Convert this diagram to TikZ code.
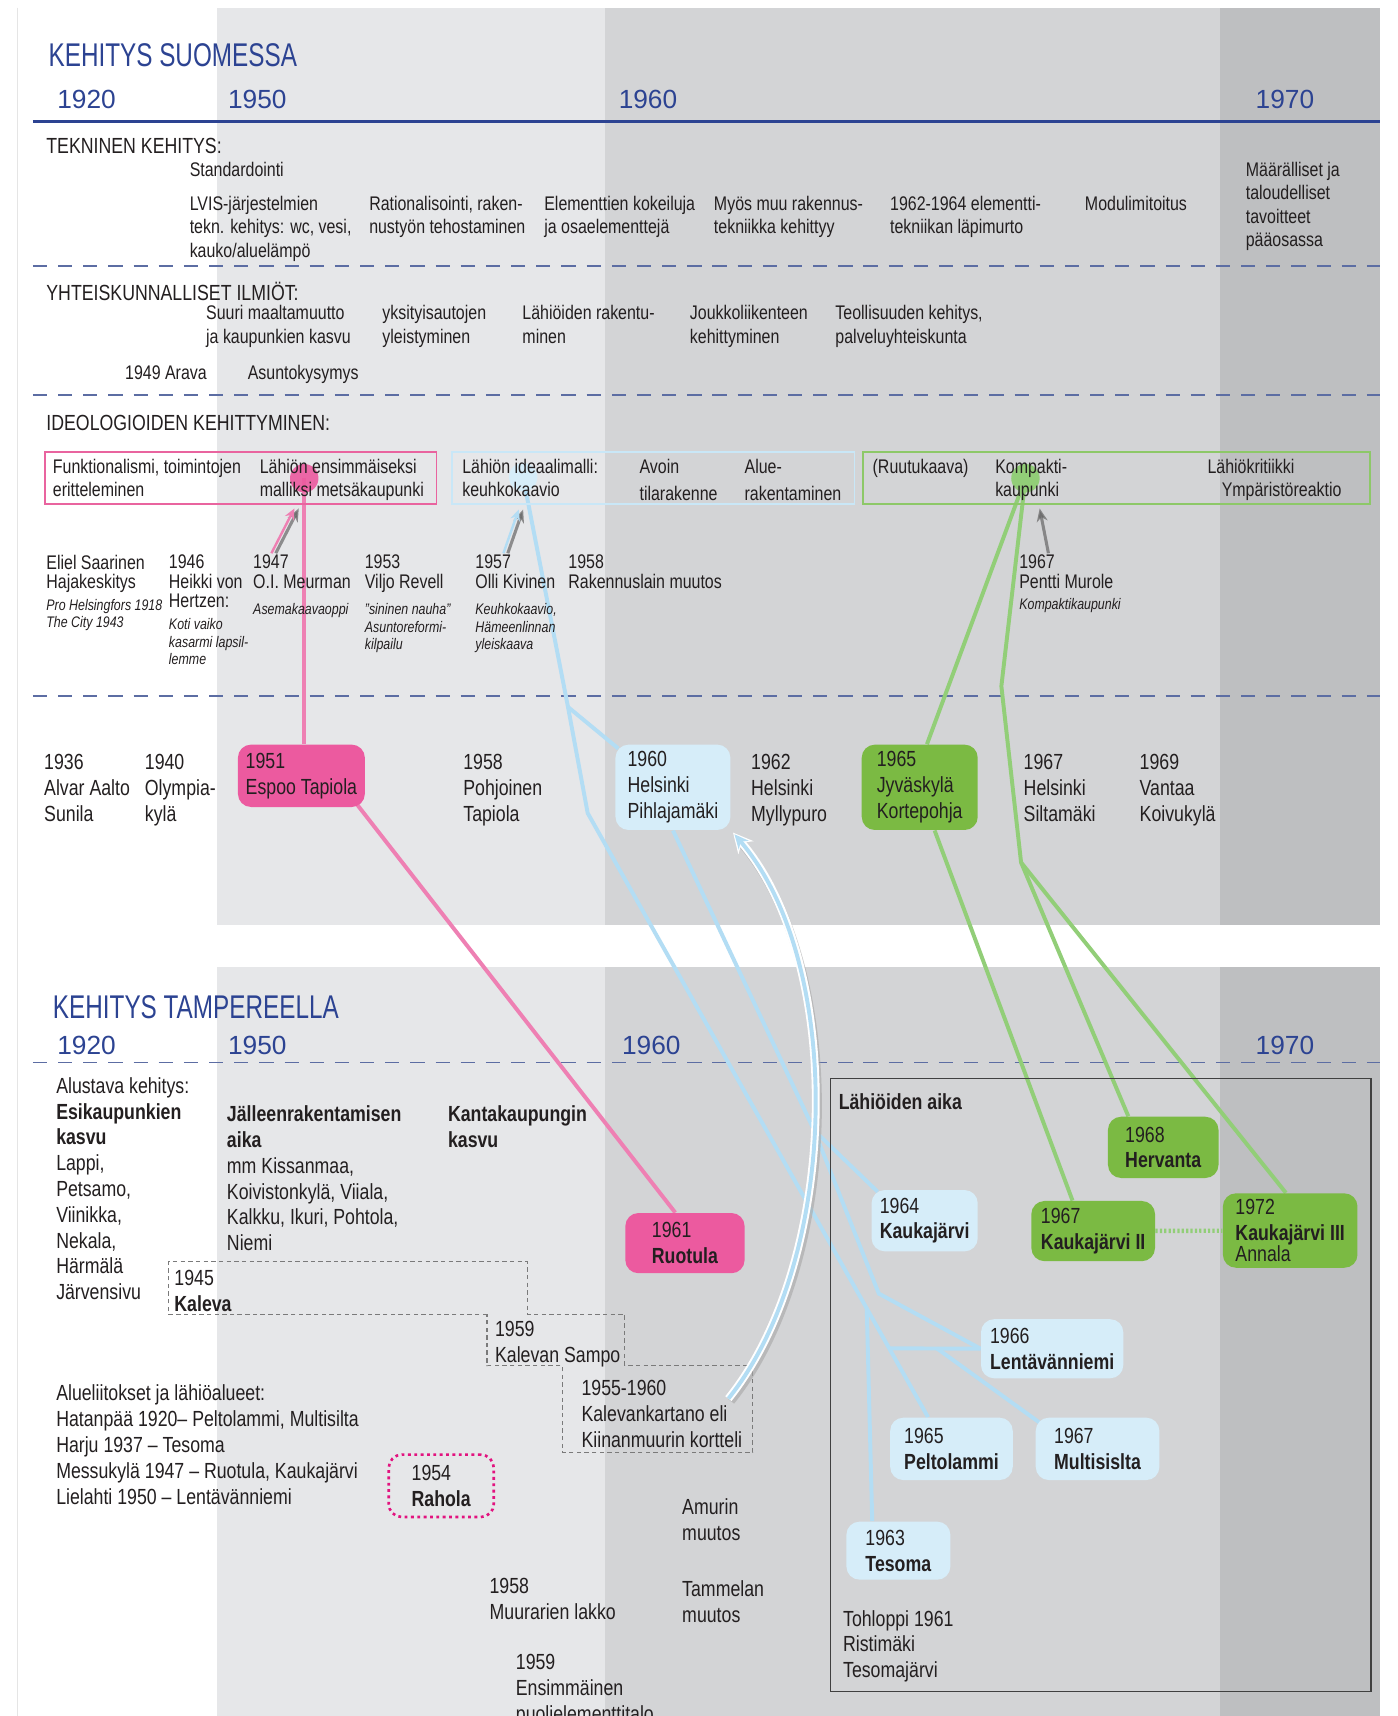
\documentclass[tikz,border=0pt]{standalone}
\usepackage{fontspec}
\setmainfont{Liberation Sans}[FakeStretch=0.81]
\newfontfamily\headfont{Liberation Sans}[FakeStretch=0.74]
\newfontfamily\yearfont{Liberation Sans}
\usepackage{xcolor}
\usepackage{tikz}
\usetikzlibrary{positioning, calc, arrows.meta}

\definecolor{ink}{HTML}{231F20}
\definecolor{navy}{HTML}{2C4392}
\definecolor{dashcol}{HTML}{5C6DA3}
\definecolor{band50}{HTML}{E6E7E9}
\definecolor{band60}{HTML}{D3D4D6}
\definecolor{band70}{HTML}{BEBFC1}
\definecolor{pinkfill}{HTML}{EC5A9F}
\definecolor{pinkline}{HTML}{EE80B3}
\definecolor{pinkedge}{HTML}{E9649F}
\definecolor{bluefill}{HTML}{D6EDF9}
\definecolor{blueline}{HTML}{B3DDF4}
\definecolor{blueedge}{HTML}{C9E7F7}
\definecolor{greenfill}{HTML}{7BBA43}
\definecolor{greenline}{HTML}{92CE78}
\definecolor{greenedge}{HTML}{8DC868}
\definecolor{raholaedge}{HTML}{E2137F}
\definecolor{stairgray}{HTML}{7A7A7A}

\pgfdeclarelayer{bands}
\pgfdeclarelayer{links}
\pgfsetlayers{bands,links,main}

\begin{document}
\begin{tikzpicture}[
      x=0.5pt, y=-0.5pt,
      every node/.style={inner sep=0pt, text=ink},
      txt/.style={anchor=north west, align=left, font=\fontsize{9}{10.75}\selectfont},
      bigtxt/.style={anchor=north west, align=left, font=\fontsize{10}{11.8}\selectfont},
      person/.style={anchor=north west, align=left, font=\fontsize{9}{9}\selectfont},
      note/.style={anchor=north west, align=left, font=\fontsize{7}{8}\selectfont\itshape},
      heading/.style={anchor=north west, font=\fontsize{10}{12}\selectfont},
      title/.style={anchor=north west, text=navy, font=\headfont\fontsize{15}{18}\selectfont},
      yearlbl/.style={anchor=north west, text=navy, font=\yearfont\fontsize{12}{14}\selectfont},
      tagbox/.style={anchor=north west, rounded corners=6pt, align=left, font=\fontsize{10}{11.75}\selectfont},
      ideabox/.style={anchor=north west, draw, line width=0.8pt, minimum height=24pt},
      sep/.style={dashcol, line width=0.7pt, dash pattern=on 6.5pt off 5pt},
      link/.style={line width=1.8pt},
      shadowarrow/.style={gray!80!black, opacity=0.7, line width=1.4pt, -{Stealth[length=6pt, width=5pt]}},
      tiparrow/.style={line width=1.1pt, -{Stealth[length=5pt, width=4.5pt]}}
    ]
      \useasboundingbox (0,0) rectangle (1277,1568);

      % Decade bands and rules
      \begin{pgfonlayer}{bands}
        \fill[white] (0,0) rectangle (1277,1568);
        \draw[gray!20, line width=0.6pt] (16,7) -- (16,1568);
        \foreach \ya/\yb in {7/845, 884/1568} {
          \fill[band50] (198,\ya) rectangle (553,\yb);
          \fill[band60] (553,\ya) rectangle (1115,\yb);
          \fill[band70] (1115,\ya) rectangle (1261,\yb);
        }
        \draw[navy, line width=1pt] (30,111) -- (1261,111);
        \foreach \yy in {243, 361, 636, 971}
          \draw[sep] (30,\yy) -- (1261,\yy);
        \draw[stairgray, line width=0.5pt, dash pattern=on 2pt off 1.5pt]
          (445,1201) -- (154,1201) -- (154,1153) -- (482,1153) -- (482,1201) -- (571,1201)
          -- (571,1248) -- (688,1248) -- (688,1327) -- (514,1327) -- (514,1248) -- (445,1248) -- cycle;
      \end{pgfonlayer}

      % Headings
      \node[title] (suomi) at (44,39) {KEHITYS SUOMESSA};
      \foreach \yr/\xx in {1920/52, 1950/208, 1960/565, 1970/1147}
        \node[yearlbl] (upper\yr) at (\xx,82) {\yr};
      \node[title] (tampere) at (48,909) {KEHITYS TAMPEREELLA};
      \foreach \yr/\xx in {1920/52, 1950/208, 1960/568, 1970/1147}
        \node[yearlbl] (lower\yr) at (\xx,946) {\yr};

      % Tekninen kehitys
      \node[heading] (tekn) at (42,126) {TEKNINEN KEHITYS:};
      \node[txt] (standard) at (173,147.5) {Standardointi};
      \node[txt] (lvis) at (173,178.5) {LVIS-järjestelmien\\tekn. kehitys: wc, vesi,\\kauko/aluelämpö};
      \node[txt] (ration) at (337,178.5) {Rationalisointi, raken-\\nustyön tehostaminen};
      \node[txt] (element) at (497,178.5) {Elementtien kokeiluja\\ja osaelementtejä};
      \node[txt] (muutek) at (652,178.5) {Myös muu rakennus-\\tekniikka kehittyy};
      \node[txt] (lapimurto) at (813,178.5) {1962-1964 elementti-\\tekniikan läpimurto};
      \node[txt] (moduli) at (991,178.5) {Modulimitoitus};
      \node[txt] (maaral) at (1138,147.5) {Määrälliset ja\\taloudelliset\\tavoitteet\\pääosassa};

      % Yhteiskunnalliset ilmiot
      \node[heading] (yhteis) at (42,257) {YHTEISKUNNALLISET ILMIÖT:};
      \node[txt] (maalta) at (188,278.5) {Suuri maaltamuutto\\ja kaupunkien kasvu};
      \node[txt] (autot) at (349,278.5) {yksityisautojen\\yleistyminen};
      \node[txt] (rakentu) at (477,278.5) {Lähiöiden rakentu-\\minen};
      \node[txt] (joukko) at (630,278.5) {Joukkoliikenteen\\kehittyminen};
      \node[txt] (teoll) at (763,278.5) {Teollisuuden kehitys,\\palveluyhteiskunta};
      \node[txt] (arava) at (114,333.5) {1949 Arava};
      \node[txt] (asunto) at (226,333.5) {Asuntokysymys};

      % Ideologiat
      \node[heading] (ideo) at (42,379) {IDEOLOGIOIDEN KEHITTYMINEN:};
      \node[ideabox, draw=pinkedge, minimum width=179pt] (pinkbox) at (40,412) {};
      \node[ideabox, draw=blueedge, minimum width=184pt] (bluebox) at (412,412) {};
      \node[ideabox, draw=greenedge, minimum width=231.5pt] (greenbox) at (788,412) {};
      \node[circle, fill=pinkfill, opacity=0.9, minimum size=13pt] (pinkdot) at (278,437) {};
      \node[circle, fill=bluefill, minimum size=13pt] (bluedot) at (478,436) {};
      \node[circle, fill=greenline, minimum size=13pt] (greendot) at (937,437) {};
      \node[txt, font=\fontsize{9}{10.5}\selectfont] (funkt) at (48,419.5) {Funktionalismi, toimintojen\\eritteleminen};
      \node[txt, font=\fontsize{9}{10.5}\selectfont] (metsa) at (237,419.5) {Lähiön ensimmäiseksi\\malliksi metsäkaupunki};
      \node[txt, font=\fontsize{9}{10.5}\selectfont] (ideaali) at (422,419.5) {Lähiön ideaalimalli:\\keuhkokaavio};
      \node[txt] (avoin) at (584,419.5) {Avoin\\[1.5pt]tilarakenne};
      \node[txt] (alue) at (680,419.5) {Alue-\\[1.5pt]rakentaminen};
      \node[txt] (ruutu) at (797,419.5) {(Ruutukaava)};
      \node[txt, font=\fontsize{9}{10.5}\selectfont] (kompakti) at (909,419.5) {Kompakti-\\kaupunki};
      \node[txt] (kritiikki) at (1103,419.5) {Lähiökritiikki};
      \node[txt] (ymparisto) at (1116,440.5) {Ympäristöreaktio};

      % Persons
      \node[person] (saarinen) at (42,506.5) {Eliel Saarinen\\Hajakeskitys};
      \node[note] (saarinennote) at (42,547) {Pro Helsingfors 1918\\The City 1943};
      \node[person] (hertzen) at (154,506.5) {1946\\Heikki von\\Hertzen:};
      \node[note] (hertzennote) at (154,565) {Koti vaiko\\kasarmi lapsil-\\lemme};
      \node[person] (meurman) at (231,506.5) {1947\\O.I. Meurman};
      \node[note] (meurmannote) at (231,551) {Asemakaavaoppi};
      \node[person] (revell) at (333,506.5) {1953\\Viljo Revell};
      \node[note] (revellnote) at (333,551) {"sininen nauha"\\Asuntoreformi-\\kilpailu};
      \node[person] (kivinen) at (434,506.5) {1957\\Olli Kivinen};
      \node[note] (kivinennote) at (434,551) {Keuhkokaavio,\\Hämeenlinnan\\yleiskaava};
      \node[person] (rakennuslaki) at (519,506.5) {1958\\Rakennuslain muutos};
      \node[person] (murole) at (931,506.5) {1967\\Pentti Murole};
      \node[note] (murolenote) at (931,546) {Kompaktikaupunki};

      % Finnish suburbs
      \node[bigtxt] (sunila) at (40,689) {1936\\Alvar Aalto\\Sunila};
      \node[bigtxt] (olympia) at (132,689) {1940\\Olympia-\\kylä};
      \node[tagbox, fill=pinkfill, minimum width=58pt, minimum height=28.5pt] (tapiola) at (217,680) {1951\\Espoo Tapiola};
      \node[bigtxt] (pohjoinen) at (423,689) {1958\\Pohjoinen\\Tapiola};
      \node[tagbox, fill=bluefill, minimum width=52.5pt, minimum height=39pt] (pihla) at (562,680) {1960\\Helsinki\\Pihlajamäki};
      \node[bigtxt] (myllypuro) at (686,689) {1962\\Helsinki\\Myllypuro};
      \node[tagbox, fill=greenfill, minimum width=53pt, minimum height=39pt] (korte) at (787,680) {1965\\Jyväskylä\\Kortepohja};
      \node[bigtxt] (siltamaki) at (935,689) {1967\\Helsinki\\Siltamäki};
      \node[bigtxt] (koivukyla) at (1041,689) {1969\\Vantaa\\Koivukylä};

      % Tampere
      \node[bigtxt] (alustava) at (51,984) {Alustava kehitys:\\\textbf{Esikaupunkien}\\\textbf{kasvu}\\Lappi,\\Petsamo,\\Viinikka,\\Nekala,\\Härmälä\\Järvensivu};
      \node[bigtxt] (jalleen) at (207,1010) {\textbf{Jälleenrakentamisen}\\\textbf{aika}\\mm Kissanmaa,\\Koivistonkylä, Viiala,\\Kalkku, Ikuri, Pohtola,\\Niemi};
      \node[bigtxt] (kanta) at (409,1010) {\textbf{Kantakaupungin}\\\textbf{kasvu}};
      \node[tagbox, fill=pinkfill, minimum width=54.5pt, minimum height=27.5pt] (ruotula) at (571,1108) {1961\\\textbf{Ruotula}};
      \node[bigtxt] (kaleva) at (159,1160) {1945\\\textbf{Kaleva}};
      \node[bigtxt] (sampo) at (452,1207) {1959\\Kalevan Sampo};
      \node[bigtxt] (kartano) at (531,1261) {1955-1960\\Kalevankartano eli\\Kiinanmuurin kortteli};
      \node[bigtxt] (liitokset) at (51,1265) {Alueliitokset ja lähiöalueet:\\Hatanpää 1920– Peltolammi, Multisilta\\Harju 1937 – Tesoma\\Messukylä 1947 – Ruotula, Kaukajärvi\\Lielahti 1950 – Lentävänniemi};
      \node[tagbox, draw=raholaedge, line width=1.2pt, dash pattern=on 1.3pt off 1.6pt, minimum width=48pt, minimum height=28.5pt] (rahola) at (354,1328) {1954\\\textbf{Rahola}};
      \node[bigtxt] (amuri) at (623,1369) {Amurin\\muutos};
      \node[bigtxt] (tammela) at (623,1444) {Tammelan\\muutos};
      \node[bigtxt] (muurarit) at (447,1442) {1958\\Muurarien lakko};
      \node[bigtxt] (puolielem) at (471,1511) {1959\\Ensimmäinen\\puolielementtitalo};

      % Lahioiden aika
      \node[anchor=north west, draw=black!75, line width=0.6pt, minimum width=247pt, minimum height=280pt] (lahiobox) at (758,985) {};
      \node[bigtxt] (lahiotitle) at (766,999) {\textbf{Lähiöiden aika}};
      \node[tagbox, fill=greenfill, minimum width=50.5pt, minimum height=28pt] (hervanta) at (1012,1020) {1968\\\textbf{Hervanta}};
      \node[tagbox, fill=bluefill, minimum width=48.5pt, minimum height=28pt] (kauka) at (796,1087) {1964\\\textbf{Kaukajärvi}};
      \node[tagbox, fill=greenfill, minimum width=56.5pt, minimum height=27.5pt] (kauka2) at (942,1097) {1967\\\textbf{Kaukajärvi II}};
      \node[tagbox, fill=greenfill, minimum width=61.5pt, minimum height=34pt] (kauka3) at (1117,1090) {1972\\\textbf{Kaukajärvi III}\\[-2pt]Annala};
      \node[tagbox, fill=bluefill, minimum width=65pt, minimum height=27pt] (lentava) at (896,1205) {1966\\\textbf{Lentävänniemi}};
      \node[tagbox, fill=bluefill, minimum width=56pt, minimum height=28.5pt] (pelto) at (813,1295) {1965\\\textbf{Peltolammi}};
      \node[tagbox, fill=bluefill, minimum width=56.5pt, minimum height=28.5pt] (multi) at (946,1295) {1967\\\textbf{Multisislta}};
      \node[tagbox, fill=bluefill, minimum width=47.5pt, minimum height=26.5pt] (tesoma) at (773,1390) {1963\\\textbf{Tesoma}};
      \node[bigtxt] (tohloppi) at (770,1471) {Tohloppi 1961\\Ristimäki\\Tesomajärvi};

      % Connectors
      \begin{pgfonlayer}{links}
        \coordinate (bA) at (519,646);
        \coordinate (bB) at (537,743);
        \coordinate (bC) at (792,1195);
        \coordinate (bD) at (812,1232);
        \coordinate (bE) at (856,1232);
        \coordinate (bF) at (744,1033);
        \coordinate (bG) at (803,1182);
        \coordinate (gA) at (915,627);
        \coordinate (gB) at (933,788);

        \draw[shadowarrow] ($(meurman.north west)+(21,-1)$) -- ($(pinkbox.south west)+(233,3)$);
        \draw[tiparrow, pinkline] ($(meurman.north west)+(17,-1)$) -- ($(pinkbox.south west)+(229,3)$);
        \draw[shadowarrow] ($(kivinen.north west)+(30,-1)$) -- ($(bluebox.south west)+(66,4)$);
        \draw[tiparrow, blueline] ($(kivinen.north west)+(26,-1)$) -- ($(bluebox.south west)+(62,4)$);
        \draw[shadowarrow] ($(murole.north west)+(27,-1)$) -- ($(greenbox.south west)+(162,3)$);

        \draw[link, pinkline] (pinkdot.center) -- (pinkdot.center |- tapiola.north);
        \draw[link, pinkline] ($(tapiola.south east)+(-7,-2)$) -- ($(ruotula.north west)+(46,0)$);

        \draw[link, blueline] (bluedot.center) -- (bA) -- (bB) -- ($(pelto.north west)+(35,0)$);
        \draw[link, blueline] (bA) -- ($(pihla.north west)+(3,4)$);
        \draw[link, blueline] (bC) -- ($(tesoma.north west)+(24,0)$);
        \draw[link, blueline] (bD) -- (lentava.west);
        \draw[link, blueline] (bE) -- ($(multi.north west)+(4,5)$);
        \draw[link, blueline] (pihla.south) -- (bF) -- (bG) -- (lentava.west);
        \draw[link, blueline] (bF) -- ($(kauka.north west)+(6,2)$);

        \draw[gray!70, opacity=0.6, line width=3.6pt, transform canvas={xshift=1.2pt, yshift=-1.2pt}]
          ($(kartano.north east)+(-13,17)$) .. controls (768,1150) and (772,880) .. ($(pihla.south east)+(6,8)$);
        \draw[white, line width=3.6pt, -{Stealth[length=9pt, width=9pt]}]
          ($(kartano.north east)+(-13,17)$) .. controls (768,1150) and (772,880) .. ($(pihla.south east)+(2,2)$);
        \draw[blueline, line width=1.8pt, shorten >=1pt, -{Stealth[length=6.5pt, width=6pt]}]
          ($(kartano.north east)+(-13,17)$) .. controls (768,1150) and (772,880) .. ($(pihla.south east)+(2,2)$);

        \draw[link, greenline] (greendot.center) -- ($(korte.north west)+(60,0)$);
        \draw[link, greenline] (greendot.center) -- (gA) -- (gB) -- ($(hervanta.north west)+(19,0)$);
        \draw[link, greenline] (gB) -- ($(kauka3.north west)+(58,0)$);
        \draw[link, greenline] ($(korte.south west)+(67,0)$) -- ($(kauka2.north west)+(38,0)$);
        \draw[greenline, line width=2pt, dash pattern=on 1pt off 1pt] (kauka2) -- (kauka3);
      \end{pgfonlayer}
    \end{tikzpicture}
\end{document}
